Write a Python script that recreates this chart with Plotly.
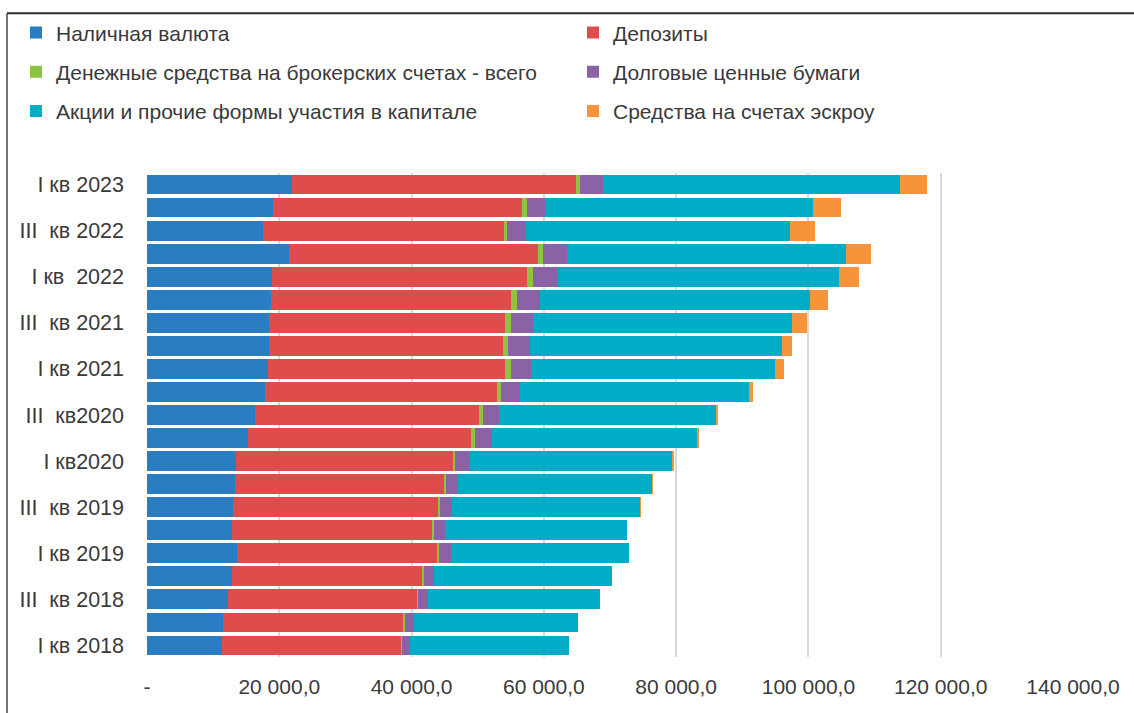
import plotly.graph_objects as go

# Categories, bottom (oldest) to top (newest)
categories = [
    "I кв 2018", "II кв 2018", "III кв 2018", "IV кв 2018",
    "I кв 2019", "II кв 2019", "III кв 2019", "IV кв 2019",
    "I кв 2020", "II кв 2020", "III кв 2020", "IV кв 2020",
    "I кв 2021", "II кв 2021", "III кв 2021", "IV кв 2021",
    "I кв 2022", "II кв 2022", "III кв 2022", "IV кв 2022",
    "I кв 2023",
]

cash = [11340, 11490, 12250, 12850, 13610, 12850, 13000, 13310, 13520, 15200, 16330,
        17840, 18220, 18450, 18450, 18750, 18900, 21470, 17540, 19050, 21920]
deposits = [27130, 27310, 28580, 28800, 30320, 30240, 31090, 31540, 32750, 33790, 33870,
            35080, 35850, 35300, 35680, 36290, 38560, 37650, 36440, 37720, 42940]
brokerage = [90, 150, 150, 230, 230, 300, 210, 360, 300, 600, 600,
             600, 970, 830, 910, 910, 910, 760, 450, 680, 600]
debt_sec = [1150, 1420, 1440, 1510, 1810, 1660, 1810, 1810, 2270, 2570, 2420,
            2870, 3020, 3330, 3330, 3480, 3780, 3630, 2870, 2660, 3480]
equity = [24100, 24800, 26080, 26910, 26910, 27520, 28430, 29330, 30540, 31000, 32810,
          34630, 36890, 38100, 39160, 40820, 42490, 42190, 39920, 40580, 44910]
escrow = [0, 0, 0, 0, 0, 0, 45, 76, 150, 150, 300,
          600, 1360, 1510, 2270, 2720, 3020, 3780, 3780, 4230, 4080]

series_names = [
    "Наличная валюта",
    "Депозиты",
    "Денежные средства на брокерских счетах - всего",
    "Долговые ценные бумаги",
    "Акции и прочие формы участия в капитале",
    "Средства на счетах эскроу",
]
series_values = [cash, deposits, brokerage, debt_sec, equity, escrow]
series_colors = ["#2A7DC0", "#DF4C4C", "#8CC43F", "#8B62A6", "#00ACC6", "#F7933B"]
series_legend = ["legend", "legend2", "legend", "legend2", "legend", "legend2"]

# Tick labels on the category axis (only I and III quarters are labelled)
ytick_cats = ["I кв 2018", "III кв 2018", "I кв 2019", "III кв 2019", "I кв 2020",
              "III кв 2020", "I кв 2021", "III кв 2021", "I кв 2022", "III кв 2022",
              "I кв 2023"]
ytick_text = ["I кв 2018", "III\u00a0\u00a0кв 2018", "I кв 2019", "III\u00a0\u00a0кв 2019",
              "I кв2020", "III\u00a0\u00a0кв2020", "I кв 2021", "III\u00a0\u00a0кв 2021",
              "I кв\u00a0\u00a02022", "III\u00a0\u00a0кв 2022", "I кв 2023"]

xtick_vals = [0, 20000, 40000, 60000, 80000, 100000, 120000, 140000]
xtick_text = ["-", "20 000,0", "40 000,0", "60 000,0", "80 000,0",
              "100 000,0", "120 000,0", "140 000,0"]

FONT = "Liberation Sans, Arial, sans-serif"
TXT = "#3a3a3a"

fig = go.Figure()
for name, vals, col, lg in zip(series_names, series_values, series_colors, series_legend):
    fig.add_trace(go.Bar(
        y=categories, x=vals, name=name, orientation="h",
        marker=dict(color=col, line=dict(width=0)),
        legend=lg, legendgroup=name,
    ))

W, H = 1134, 713
L, R, T, B = 147, 61, 169, 56
pw, ph = W - L - R, H - T - B

def px2x(px):
    return (px - L) / pw

def py2y(py):
    return (H - B - py) / ph

fig.update_layout(
    width=W, height=H,
    barmode="stack", bargap=0.14,
    plot_bgcolor="white", paper_bgcolor="white",
    margin=dict(l=L, r=R, t=T, b=B, pad=0),
    font=dict(family=FONT, size=21, color=TXT),
    legend=dict(x=px2x(16), y=py2y(7), xanchor="left", yanchor="top",
                orientation="v", traceorder="grouped", tracegroupgap=9,
                font=dict(family=FONT, size=21, color=TXT), bgcolor="rgba(0,0,0,0)"),
    legend2=dict(x=px2x(573), y=py2y(7), xanchor="left", yanchor="top",
                 orientation="v", traceorder="grouped", tracegroupgap=9,
                 font=dict(family=FONT, size=21, color=TXT), bgcolor="rgba(0,0,0,0)"),
    xaxis=dict(range=[0, 140000], tickvals=xtick_vals, ticktext=xtick_text,
               showgrid=True, gridcolor="#d9d9d9", gridwidth=2, zeroline=False,
               showline=False, ticks="", ticklabelstandoff=15,
               tickfont=dict(family=FONT, size=21, color=TXT)),
    yaxis=dict(type="category", categoryorder="array", categoryarray=categories,
               tickvals=ytick_cats, ticktext=ytick_text, showgrid=False,
               showline=False, ticks="", ticklabelstandoff=22,
               tickfont=dict(family=FONT, size=21.5, color=TXT)),
    shapes=[
        dict(type="line", xref="paper", yref="paper",
             x0=px2x(7), x1=px2x(1140), y0=py2y(8), y1=py2y(8),
             line=dict(color="#2b2b2b", width=2)),
        dict(type="line", xref="paper", yref="paper",
             x0=px2x(7), x1=px2x(7), y0=py2y(8), y1=py2y(720),
             line=dict(color="#444444", width=1.5)),
    ],
)

fig.write_html("out.html", post_script="document.body.style.margin='0';",
               config={"displayModeBar": False})
